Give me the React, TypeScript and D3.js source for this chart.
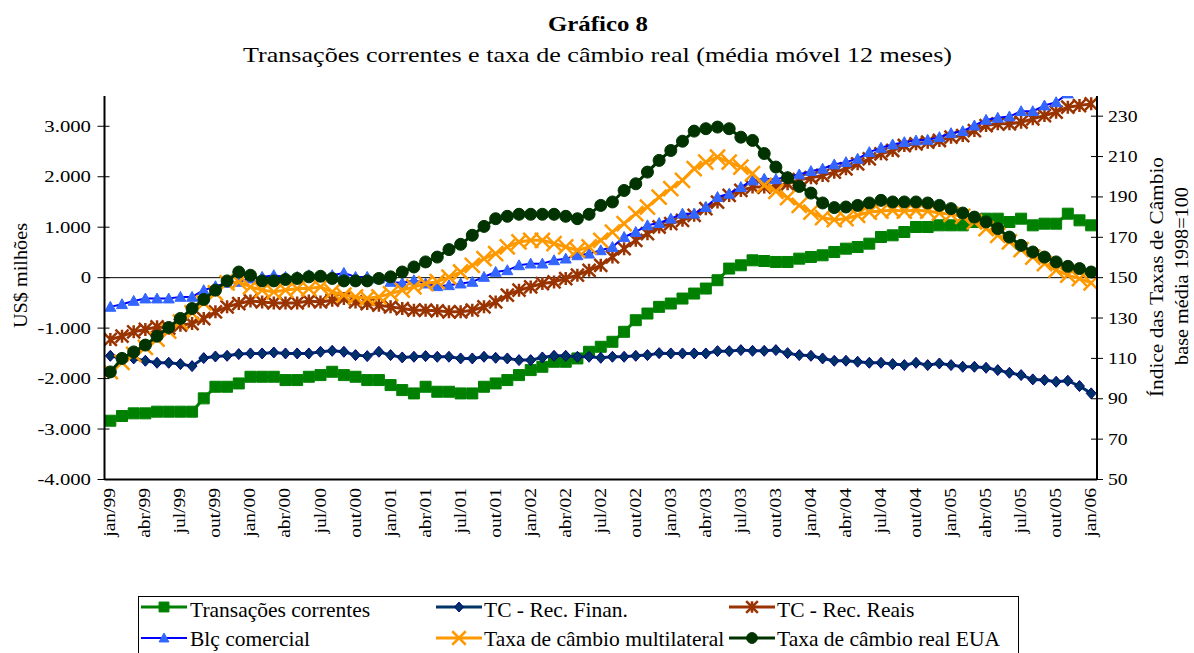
import React from 'react';
import * as d3 from 'd3';

const monthNames = ['jan','fev','mar','abr','mai','jun','jul','ago','set','out','nov','dez'];
const years = ['99','00','01','02','03','04','05'];
const categories: string[] = [...years.flatMap(y => monthNames.map(m => `${m}/${y}`)), 'jan/06'];
const tickLabels = ['jan/99','abr/99','jul/99','out/99','jan/00','abr/00','jul/00','out/00','jan/01','abr/01','jul/01','out/01','jan/02','abr/02','jul/02','out/02','jan/03','abr/03','jul/03','out/03','jan/04','abr/04','jul/04','out/04','jan/05','abr/05','jul/05','out/05','jan/06'];
const leftTicks = [-4000,-3000,-2000,-1000,0,1000,2000,3000];
const rightTicks = [50,70,90,110,130,150,170,190,210,230];

const transacoes = [-2835,-2742,-2689,-2689,-2656,-2656,-2656,-2656,-2392,-2162,-2162,-2096,-1964,-1964,-1964,-2030,-2030,-1964,-1931,-1865,-1931,-1964,-2030,-2030,-2129,-2228,-2294,-2162,-2261,-2261,-2294,-2294,-2162,-2096,-2030,-1931,-1832,-1766,-1667,-1667,-1601,-1469,-1370,-1271,-1073,-843,-711,-579,-513,-414,-315,-216,-51,180,245,344,330,311,311,377,410,443,509,575,608,674,806,839,905,1004,1004,1037,1037,1037,1103,1169,1169,1103,1169,1037,1070,1070,1268,1136,1037];
const recFinan = [-1549,-1601,-1601,-1647,-1687,-1687,-1713,-1753,-1594,-1562,-1549,-1515,-1502,-1502,-1483,-1502,-1502,-1502,-1469,-1450,-1469,-1535,-1555,-1469,-1535,-1581,-1568,-1555,-1568,-1568,-1601,-1601,-1568,-1588,-1601,-1634,-1634,-1581,-1549,-1549,-1568,-1568,-1588,-1568,-1568,-1549,-1535,-1496,-1502,-1502,-1502,-1502,-1456,-1456,-1436,-1450,-1450,-1436,-1496,-1535,-1549,-1601,-1647,-1647,-1667,-1687,-1687,-1713,-1733,-1687,-1733,-1700,-1733,-1766,-1766,-1786,-1832,-1885,-1931,-2016,-2030,-2063,-2043,-2148,-2293];
const recReais = [-1225,-1159,-1073,-1027,-975,-1001,-942,-909,-810,-678,-579,-513,-461,-481,-500,-500,-500,-461,-481,-447,-414,-481,-513,-546,-579,-612,-645,-645,-658,-678,-678,-645,-579,-480,-348,-249,-183,-117,-84,-18,48,146,245,410,575,740,872,1004,1070,1136,1235,1367,1498,1630,1729,1795,1795,1810,1861,1941,1980,2026,2091,2158,2257,2356,2455,2520,2619,2652,2685,2718,2784,2817,2916,3015,3048,3048,3081,3147,3213,3279,3378,3411,3444];
const blcComercial = [-579,-526,-461,-414,-414,-414,-381,-381,-249,-170,-104,-84,-18,15,48,15,15,48,15,48,94,15,15,-18,-84,-104,-51,-117,-170,-150,-117,-84,15,113,146,245,278,278,344,377,443,476,542,608,806,905,1037,1082,1169,1268,1268,1400,1597,1663,1795,1927,1960,1950,2000,2045,2111,2158,2243,2289,2356,2487,2573,2639,2685,2718,2731,2784,2863,2903,3015,3127,3167,3193,3298,3298,3411,3476,3650,3720,3800];
const taxaMulti = [103.5,108,112,115.5,119.5,123.5,128,132.5,137.5,142.5,147.4,147.9,145.4,143.8,143,143.8,144.6,144.6,145.4,143,141.3,140.5,139.7,140.5,142.1,143.8,145.4,147.1,148,150.3,152.8,156.1,159.4,161.9,165.2,167.7,168.5,168.5,166.9,165.2,163.6,165.2,168.5,172.6,176.8,181.7,185,189.9,194.1,198.2,204,207.2,209.7,207.2,204.8,201.5,195.7,192.8,189.6,185.8,182.5,179.7,178.7,179.2,180.9,182.5,183,183.4,183,183.4,183,182,181.4,180.4,177.6,174.3,171,167.7,163.9,160.2,157,153.7,151.2,149.5,147.4];
const taxaEUA = [103.3,110,113.2,116.6,121,125.3,129.8,134.7,139.2,143.8,148.4,152.8,151.2,148.4,148.4,149.1,149.6,150.4,150.7,149.6,148.4,148.4,148.4,149.6,150.4,152.8,155.3,157.8,160.2,163.9,166.5,171,175.4,179.2,180.4,181.4,181.4,181.4,181.4,180.4,179.2,181.4,185.8,187.5,193.2,196.5,202.3,208.1,213,217.6,222.6,223.8,224.6,223.8,219.6,218,211.5,204.8,199.5,195.2,191.9,187,184.7,185,185.8,187,188.3,187.5,187.5,187.5,187,185.8,184.2,182,180,177.6,174.3,170.1,166,162.7,160.2,157.8,155.6,154.5,152.8];

type Marker = 'square' | 'diamond' | 'asterisk' | 'triangle' | 'x' | 'circle';
interface Series { name: string; values: number[]; axis: 'L' | 'R'; line: string; lineWidth: number; marker: Marker; fill: string; stroke: string; }

const series: Series[] = [
  { name: 'Transações correntes', values: transacoes, axis: 'L', line: '#008000', lineWidth: 3, marker: 'square', fill: '#008000', stroke: '#008000' },
  { name: 'TC - Rec. Finan.', values: recFinan, axis: 'L', line: '#003366', lineWidth: 3, marker: 'diamond', fill: '#003366', stroke: '#000080' },
  { name: 'TC - Rec. Reais', values: recReais, axis: 'L', line: '#993300', lineWidth: 3, marker: 'asterisk', fill: 'none', stroke: '#993300' },
  { name: 'Blç comercial', values: blcComercial, axis: 'L', line: '#0000FF', lineWidth: 2, marker: 'triangle', fill: '#3366FF', stroke: '#3366FF' },
  { name: 'Taxa de câmbio multilateral', values: taxaMulti, axis: 'R', line: '#FF9900', lineWidth: 3, marker: 'x', fill: 'none', stroke: '#FF9900' },
  { name: 'Taxa de câmbio real EUA', values: taxaEUA, axis: 'R', line: '#003300', lineWidth: 3, marker: 'circle', fill: '#003300', stroke: '#003300' },
];

const FONT = '"Liberation Serif", "Times New Roman", serif';

function markerPath(m: Marker, s: number): string {
  const h = s / 2;
  switch (m) {
    case 'square': return `M${-h},${-h}H${h}V${h}H${-h}Z`;
    case 'diamond': return `M0,${-h}L${h * 0.9},0L0,${h}L${-h * 0.9},0Z`;
    case 'triangle': return `M0,${-h}L${h},${h * 0.8}L${-h},${h * 0.8}Z`;
    case 'x': return `M${-h},${-h}L${h},${h}M${-h},${h}L${h},${-h}`;
    case 'asterisk': return `M${-h},${-h}L${h},${h}M${-h},${h}L${h},${-h}M0,${-h}V${h}`;
    case 'circle': return d3.symbol(d3.symbolCircle, Math.PI * h * h)() as string;
  }
}
const markerSize: Record<Marker, number> = { square: 11, diamond: 11, asterisk: 13, triangle: 11, x: 15, circle: 12 };

const fmtLeft = (t: number) => (t === 0 ? '0' : `${t < 0 ? '-' : ''}${Math.abs(t / 1000)}.000`);

export default function App() {
  const W = 1194, H = 653;
  const left = 104.5, right = 1097, top = 96, bottom = 479.5;
  const x = d3.scaleBand<string>().domain(categories).range([left, right]);
  const cx = (c: string) => (x(c) as number) + x.bandwidth() / 2;
  const yL = d3.scaleLinear().domain([-4000, 3600]).range([bottom, top]);
  const yR = d3.scaleLinear().domain([50, 240]).range([bottom, top]);

  const legendPos = [
    { lx: 141, tx: 190, y: 607, ty: 616.5 },
    { lx: 436, tx: 484, y: 607, ty: 616.5 },
    { lx: 729, tx: 777, y: 607, ty: 616.5 },
    { lx: 141, tx: 190, y: 638, ty: 646 },
    { lx: 436, tx: 484, y: 638, ty: 646 },
    { lx: 729, tx: 777, y: 638, ty: 646 },
  ];

  return (
    <svg width={W} height={H} style={{ position: 'absolute', left: 0, top: 0, background: '#fff' }} fontFamily={FONT}>
      <defs>
        <clipPath id="plot"><rect x={left} y={top} width={right - left} height={bottom - top} /></clipPath>
      </defs>
      <rect x={0} y={0} width={W} height={H} fill="#fff" />
      <text x={598} y={31} textAnchor="middle" fontSize={22} fontWeight="bold" textLength={100} lengthAdjust="spacingAndGlyphs">Gráfico 8</text>
      <text x={597.5} y={61.5} textAnchor="middle" fontSize={22} textLength={709} lengthAdjust="spacingAndGlyphs">Transações correntes e taxa de câmbio real (média móvel 12 meses)</text>

      {/* zero line */}
      <line x1={left} x2={right} y1={yL(0)} y2={yL(0)} stroke="#000" strokeWidth={1} />

      <g clipPath="url(#plot)">
        {series.map((s, si) => {
          const y = s.axis === 'L' ? yL : yR;
          const line = d3.line<number>().x((_, i) => cx(categories[i])).y(v => y(v));
          const mp = markerPath(s.marker, markerSize[s.marker]);
          const isStroke = s.marker === 'x' || s.marker === 'asterisk';
          return (
            <g key={si}>
              <path d={line(s.values) as string} fill="none" stroke={s.line} strokeWidth={s.lineWidth} strokeLinejoin="round" />
              {s.values.map((v, i) => (
                <path key={i} d={mp} transform={`translate(${cx(categories[i])},${y(v)})`}
                  fill={isStroke ? 'none' : s.fill} stroke={s.stroke} strokeWidth={isStroke ? 2.5 : 1} />
              ))}
            </g>
          );
        })}
      </g>

      {/* axes */}
      <line x1={left} x2={left} y1={top} y2={bottom} stroke="#000" strokeWidth={2} />
      <line x1={right} x2={right} y1={top} y2={bottom} stroke="#000" strokeWidth={2} />
      <line x1={left} x2={right} y1={bottom} y2={bottom} stroke="#000" strokeWidth={2} />
      {leftTicks.map(t => (
        <g key={t}>
          <line x1={left - 7} x2={left + 5} y1={yL(t)} y2={yL(t)} stroke="#000" strokeWidth={1} />
          <g transform={`translate(91,${yL(t) + 5.5}) scale(1.22,1)`}>
            <text x={0} y={0} textAnchor="end" fontSize={17}>{fmtLeft(t)}</text>
          </g>
        </g>
      ))}
      {rightTicks.map(t => (
        <g key={t}>
          <line x1={right - 6} x2={right + 6} y1={yR(t)} y2={yR(t)} stroke="#000" strokeWidth={1} />
          <g transform={`translate(1108,${yR(t) + 5.5}) scale(1.16,1)`}>
            <text x={0} y={0} textAnchor="start" fontSize={17}>{t}</text>
          </g>
        </g>
      ))}
      {tickLabels.map(t => (
        <g key={t} transform={`translate(${cx(t) + 5},488) rotate(-90) scale(1.22,1)`}>
          <text x={0} y={0} textAnchor="end" fontSize={16}>{t}</text>
        </g>
      ))}

      <text transform="translate(27,275.5) rotate(-90)" textAnchor="middle" fontSize={19} textLength={105} lengthAdjust="spacingAndGlyphs">US$ milhões</text>
      <text transform="translate(1163,277) rotate(-90)" textAnchor="middle" fontSize={19} textLength={240} lengthAdjust="spacingAndGlyphs">Índice das Taxas de Câmbio</text>
      <text transform="translate(1188,276) rotate(-90)" textAnchor="middle" fontSize={19} textLength={178} lengthAdjust="spacingAndGlyphs">base média 1998=100</text>

      {/* legend */}
      <rect x={138.5} y={596.5} width={880} height={70} fill="#fff" stroke="#000" strokeWidth={1} />
      {series.map((s, i) => {
        const p = legendPos[i];
        const mp = markerPath(s.marker, markerSize[s.marker] * 0.9);
        const isStroke = s.marker === 'x' || s.marker === 'asterisk';
        const mx = p.lx + 23;
        return (
          <g key={i}>
            <line x1={p.lx} x2={p.lx + 46} y1={p.y} y2={p.y} stroke={s.line} strokeWidth={s.lineWidth} />
            <path d={mp} transform={`translate(${mx},${p.y})`} fill={isStroke ? 'none' : s.fill} stroke={s.stroke} strokeWidth={isStroke ? 2.5 : 1} />
            <text x={p.tx} y={p.ty} fontSize={21.5}>{s.name}</text>
          </g>
        );
      })}
    </svg>
  );
}
